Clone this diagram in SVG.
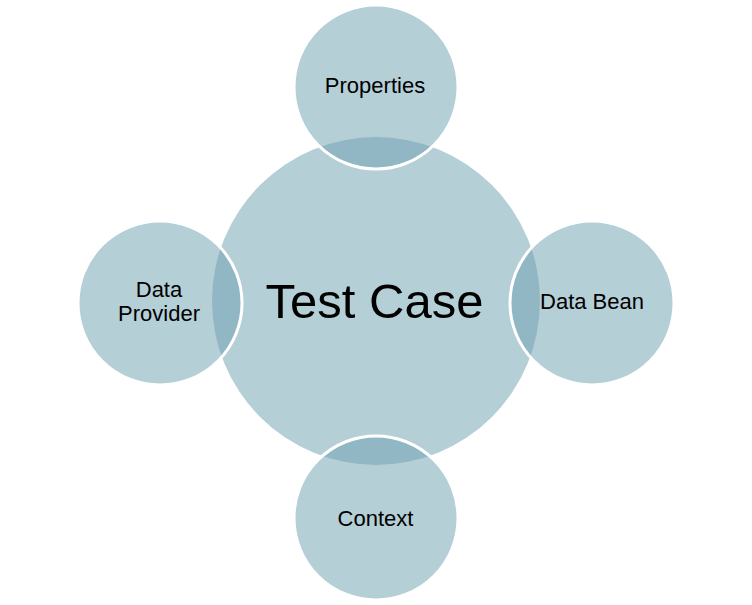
<svg xmlns="http://www.w3.org/2000/svg" width="752" height="605" viewBox="0 0 752 605">
<style>
.main{fill:#b5cfd7;}
.sat{fill:#6b9faf;fill-opacity:0.5;stroke:#ffffff;stroke-width:3;}
text{font-family:"Liberation Sans",Arial,sans-serif;fill:#000;text-anchor:middle;}
.big{font-size:49px;}
.lbl{font-size:22px;}
</style>
<rect width="752" height="605" fill="#ffffff"/>
<g id="test-case">
<circle class="main" cx="376" cy="301" r="164"/>
<text class="big" x="374.5" y="318">Test Case</text>
</g>
<g id="connectors"></g>
<g id="properties">
<circle class="sat" cx="376" cy="87" r="82"/>
<text class="lbl" x="375" y="93">Properties</text>
</g>
<g id="data-bean">
<circle class="sat" cx="592" cy="303" r="82"/>
<text class="lbl" x="592" y="309">Data Bean</text>
</g>
<g id="context">
<circle class="sat" cx="376" cy="518" r="82"/>
<text class="lbl" x="375.5" y="526">Context</text>
</g>
<g id="data-provider">
<circle class="sat" cx="160" cy="303" r="82"/>
<text class="lbl" x="159" y="297">Data</text>
<text class="lbl" x="159" y="321">Provider</text>
</g>
</svg>
